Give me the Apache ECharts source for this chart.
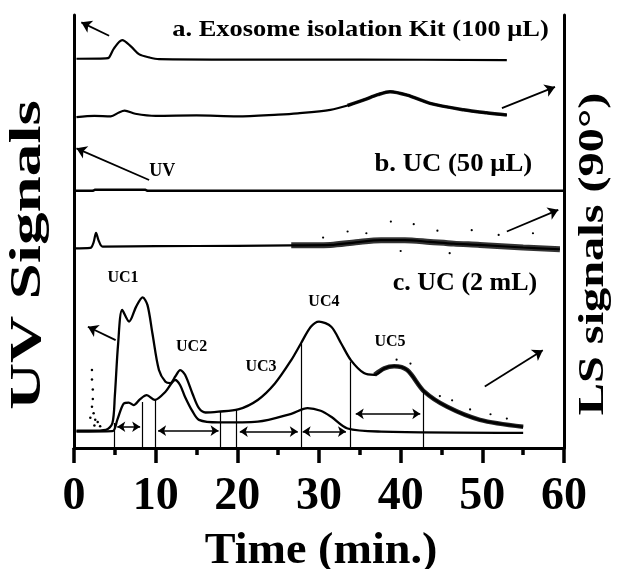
<!DOCTYPE html>
<html>
<head>
<meta charset="utf-8">
<script src="https://cdn.jsdelivr.net/npm/echarts@6/dist/echarts.min.js"></script>
<style>
  html, body { margin: 0; background: #fff; }
  #chart { width: 618px; height: 569px; }
</style>
</head>
<body>
<div id="chart"></div>
<script>
const SERIF = '"Liberation Serif", "Times New Roman", serif';

// a. Exosome isolation Kit (100 uL)  [time (min), signal (a.u.)]
const kitUV = [[0.3, 89.9], [3.9, 90.0], [4.3, 90.2], [4.9, 92.3], [5.9, 94.2], [7.0, 92.7], [8.0, 90.9],
  [9.2, 90.2], [10.4, 89.8], [20.0, 89.7], [35.0, 89.7], [53.0, 89.6]];
const kitLS = [[0.3, 76.4], [2.5, 76.7], [4.5, 76.6], [5.5, 77.5], [6.2, 77.9], [7.5, 77.2], [10.0, 76.7],
  [15.0, 76.8], [20.0, 76.6], [25.0, 77.0], [27.4, 77.3], [31.4, 78.1], [33.5, 79.1], [35.5, 80.4],
  [37.2, 81.6], [38.7, 82.3], [40.8, 81.5], [43.6, 79.6], [47.7, 78.1], [50.5, 77.4], [53.0, 76.9]];
const kitLSNoisy = [[33.5, 79.1], [35.5, 80.4], [37.2, 81.6], [38.7, 82.3], [40.8, 81.5], [43.6, 79.6],
  [47.7, 78.1], [50.5, 77.4], [53.0, 76.9]];

// b. UC (50 uL)
const uc50UV = [[0, 59.4], [2.3, 59.4], [2.6, 59.65], [8.7, 59.65], [9.0, 59.4], [60, 59.4]];
const uc50LS = [[0, 46.1], [2.0, 46.2], [2.4, 47.5], [2.7, 49.7], [3.0, 48.0], [3.5, 46.5], [10, 46.6],
  [20, 46.7], [26.6, 46.8], [31.4, 46.9], [34.5, 47.5], [37.6, 48.0], [40.5, 48.0], [43.6, 47.6],
  [46.5, 47.2], [49.7, 46.9], [55, 46.3], [59.5, 45.9]];
const uc50LSNoisy = [[26.6, 46.8], [31.4, 46.9], [34.5, 47.5], [37.6, 48.0], [40.5, 48.0], [43.6, 47.6],
  [46.5, 47.2], [49.7, 46.9], [55, 46.3], [59.5, 45.9]];
const uc50LSDots = [[30.5, 48.6], [33.5, 50.0], [35.8, 49.6], [38.8, 52.3], [40.0, 45.5], [41.6, 51.7],
  [44.5, 50.2], [46.0, 45.0], [48.7, 50.3], [52.0, 49.2], [56.2, 49.6]];

// c. UC (2 mL)
const uc2Upper = [[0.3, 4.0], [2.0, 4.0], [3.9, 4.2], [4.7, 5.7], [5.0, 12.0], [5.4, 24.0], [5.9, 31.9],
  [6.75, 29.2], [7.6, 32.6], [8.4, 34.8], [9.0, 33.0], [9.6, 26.5], [10.4, 18.0], [11.2, 15.3],
  [11.8, 15.0], [12.4, 16.5], [13.0, 18.0], [13.6, 16.9], [14.5, 12.6], [15.3, 9.2], [16.1, 8.2],
  [17.7, 8.4], [20.1, 8.9], [22.5, 11.1], [24.6, 14.9], [26.6, 20.3], [27.8, 24.2], [29.0, 28.0],
  [30.0, 29.2], [31.5, 28.0], [32.7, 24.2], [33.9, 20.3], [35.5, 17.3], [36.8, 16.9], [38.0, 18.4],
  [39.2, 18.9], [40.8, 18.0], [42.9, 13.0], [45.7, 9.5], [49.7, 6.5], [55.0, 4.9]];
const uc2UpperNoisy = [[36.8, 16.9], [38.0, 18.4], [39.2, 18.9], [40.8, 18.0], [42.9, 13.0], [45.7, 9.5],
  [49.7, 6.5], [55.0, 4.9]];
const uc2UpperDots = [[39.5, 20.4], [41.2, 19.5], [44.8, 12.0], [46.3, 11.0], [48.5, 8.9], [51.0, 7.8],
  [53.0, 6.8]];
const uc2Lower = [[0.3, 3.8], [4.7, 3.9], [5.3, 6.5], [6.1, 10.3], [6.7, 10.5], [7.3, 9.9], [8.1, 11.3],
  [8.9, 12.2], [9.9, 11.1], [11.2, 13.0], [12.4, 15.7], [13.0, 14.5], [13.6, 11.8], [14.5, 8.5],
  [15.3, 6.5], [17.7, 5.9], [22.5, 6.1], [26.6, 7.9], [28.6, 9.2], [30.2, 8.6], [31.5, 7.2],
  [33.5, 4.5], [37.6, 3.8], [55.0, 3.5]];
const uc2Spike = [[2.2, 18.0], [2.2, 15.8], [2.3, 13.5], [2.3, 11.3], [2.2, 9.5], [2.4, 8.0], [2.0, 7.0],
  [2.6, 6.5], [2.9, 6.0], [2.5, 5.2], [3.2, 5.0]];

// fraction cut times and the height each cut line reaches
const fractionCuts = [[4.9, 5.8], [8.4, 10.6], [9.9, 11.1], [17.9, 8.5], [19.85, 8.8], [27.8, 24.0],
  [33.8, 20.0], [42.8, 13.4]];
// collected ranges: start, end, height
const fractionRanges = [[5.3, 8.1, 4.9], [10.3, 17.7, 4.0], [20.3, 27.4, 3.8], [28.0, 33.3, 3.8],
  [34.5, 42.4, 7.9]];
// detector arrows: from (t, v) to (t, v)
const detectorArrows = [[4.3, 95.2, 0.9, 98.3], [52.4, 78.5, 58.9, 83.4], [9.2, 61.9, 0.3, 69.2],
  [53.0, 50.0, 59.3, 55.0], [5.1, 24.9, 1.7, 28.0], [50.3, 14.2, 57.4, 22.6]];
const peakLabels = [['UC1', 6.0, 39.3], ['UC2', 14.4, 23.4], ['UC3', 22.9, 18.8], ['UC4', 30.6, 33.8],
  ['UC5', 38.7, 24.5]];
const detectorLabels = [['UV', 10.8, 63.9]];

function trace(name, data, width, opacity, smooth) {
  return {
    name: name, type: 'line', data: data, showSymbol: false, smooth: smooth,
    lineStyle: { color: '#000', width: width, opacity: opacity }
  };
}
function dots(name, data, size) {
  return {
    name: name, type: 'scatter', data: data, symbolSize: size,
    itemStyle: { color: '#000', opacity: 1 }
  };
}
function labels(name, data, size) {
  return {
    name: name, type: 'scatter', symbolSize: 0,
    itemStyle: { color: '#000', opacity: 1 },
    data: data.map(p => ({ name: p[0], value: [p[1], p[2]] })),
    label: {
      show: true, position: 'inside', formatter: '{b}', color: '#000', opacity: 1,
      fontFamily: SERIF, fontWeight: 'bold', fontSize: size
    }
  };
}

const chart = echarts.init(document.getElementById('chart'));

const yAxisBase = {
  type: 'value', min: 0, max: 100,
  axisLine: { show: true, lineStyle: { color: '#000', width: 3 } },
  axisTick: { show: false }, axisLabel: { show: false }, splitLine: { show: false }
};

chart.setOption({
  animation: false,
  grid: { left: 74, right: 54, top: 15, bottom: 121 },
  xAxis: {
    type: 'value', min: 0, max: 60, interval: 10,
    axisLine: { onZero: false, lineStyle: { color: '#000', width: 3 } },
    axisTick: { length: 15, lineStyle: { color: '#000', width: 3.5 } },
    minorTick: { show: true, splitNumber: 2, length: 7, lineStyle: { color: '#000', width: 3.5 } },
    splitLine: { show: false },
    axisLabel: {
      color: '#000', fontFamily: SERIF, fontWeight: 'bold', fontSize: 46,
      margin: 49, verticalAlign: 'middle'
    }
  },
  yAxis: [
    Object.assign({ position: 'left' }, yAxisBase),
    Object.assign({ position: 'right' }, yAxisBase)
  ],
  series: [
    trace('Kit UV', kitUV, 2.2, 1, 0.3),
    trace('Kit LS', kitLS, 2.2, 1, 0.3),
    trace('Kit LS band', kitLSNoisy, 3.5, 0.9, 0.3),
    trace('UC 50 UV', uc50UV, 2.4, 1, false),
    trace('UC 50 LS', uc50LS, 2.2, 1, 0.3),
    trace('UC 50 LS band', uc50LSNoisy, 6, 0.8, 0.3),
    dots('UC 50 LS dots', uc50LSDots, 2.2),
    trace('UC 2 mL upper', uc2Upper, 2.3, 1, 0.3),
    trace('UC 2 mL upper band', uc2UpperNoisy, 4.5, 0.85, 0.3),
    dots('UC 2 mL upper dots', uc2UpperDots, 2.2),
    trace('UC 2 mL lower', uc2Lower, 2.3, 1, 0.3),
    dots('UC 2 mL spike', uc2Spike, 2.5),
    {
      name: 'Fraction cuts', type: 'lines', coordinateSystem: 'cartesian2d',
      data: fractionCuts.map(c => ({ coords: [[c[0], 0], [c[0], c[1]]] })),
      symbol: 'none', lineStyle: { color: '#000', width: 1.2, opacity: 1 }
    },
    {
      name: 'Fraction ranges', type: 'lines', coordinateSystem: 'cartesian2d',
      data: fractionRanges.map(r => ({ coords: [[r[0], r[2]], [r[1], r[2]]] })),
      symbol: ['arrow', 'arrow'], symbolSize: 8,
      lineStyle: { color: '#000', width: 1.5, opacity: 1 }
    },
    {
      name: 'Detector arrows', type: 'lines', coordinateSystem: 'cartesian2d',
      data: detectorArrows.map(a => ({ coords: [[a[0], a[1]], [a[2], a[3]]] })),
      symbol: ['none', 'arrow'], symbolSize: 10,
      lineStyle: { color: '#000', width: 1.8, opacity: 1 }
    },
    labels('Peak labels', peakLabels, 16),
    labels('Detector labels', detectorLabels, 18)
  ],
  graphic: [
    { type: 'text', x: 360.5, y: 30, scaleX: 1.15,
      style: { text: 'a. Exosome isolation Kit (100 μL)', font: 'bold 23px ' + SERIF, fill: '#000',
        textAlign: 'center', textVerticalAlign: 'middle', align: 'center', verticalAlign: 'middle' } },
    { type: 'text', x: 453.3, y: 165, scaleX: 1.07,
      style: { text: 'b. UC (50 μL)', font: 'bold 25px ' + SERIF, fill: '#000',
        textAlign: 'center', textVerticalAlign: 'middle', align: 'center', verticalAlign: 'middle' } },
    { type: 'text', x: 465, y: 283, scaleX: 1.0,
      style: { text: 'c. UC (2 mL)', font: 'bold 26px ' + SERIF, fill: '#000',
        textAlign: 'center', textVerticalAlign: 'middle', align: 'center', verticalAlign: 'middle' } },
    { type: 'text', x: 321, y: 551.5, scaleX: 1.05,
      style: { text: 'Time (min.)', font: 'bold 44px ' + SERIF, fill: '#000',
        textAlign: 'center', textVerticalAlign: 'middle', align: 'center', verticalAlign: 'middle' } },
    { type: 'text', x: 28, y: 255, rotation: Math.PI / 2, scaleX: 1.45,
      style: { text: 'UV Signals', font: 'bold 45px ' + SERIF, fill: '#000',
        textAlign: 'center', textVerticalAlign: 'middle', align: 'center', verticalAlign: 'middle' } },
    { type: 'text', x: 593.5, y: 254, rotation: Math.PI / 2, scaleX: 1.38,
      style: { text: 'LS signals (90°)', font: 'bold 35px ' + SERIF, fill: '#000',
        textAlign: 'center', textVerticalAlign: 'middle', align: 'center', verticalAlign: 'middle' } }
  ]
});
</script>
</body>
</html>
